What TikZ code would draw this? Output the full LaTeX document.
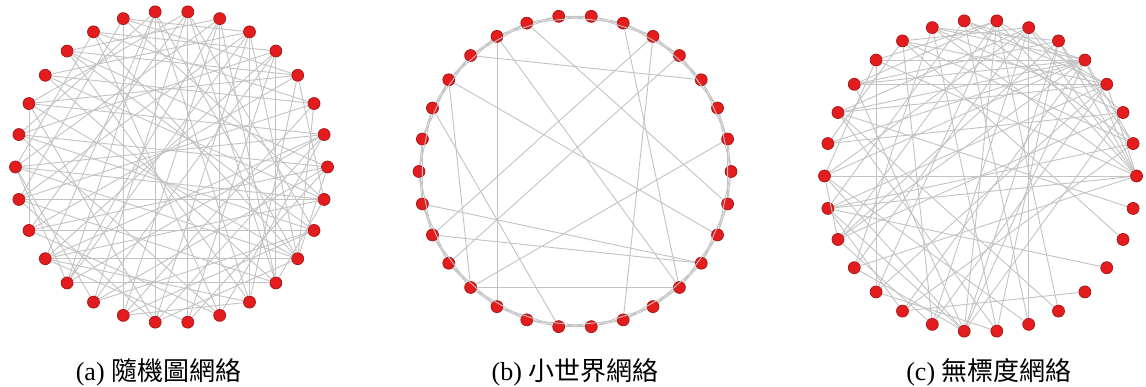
\documentclass[tikz,border=0pt]{standalone}
\usepackage{fontspec}
\setmainfont{Liberation Serif}
\newfontfamily\cjk{Noto Sans CJK TC}
\usepackage{xcolor}
\usepackage{tikz}
\definecolor{nodered}{RGB}{228,28,30}
\definecolor{nodedark}{RGB}{165,22,22}
\definecolor{linkgray}{RGB}{195,195,195}

\begin{document}
\begin{tikzpicture}[x=1pt, y=-1pt,
        vtx/.style={circle, fill=nodered, draw=nodedark, line width=0.7pt,
                    minimum size=12pt, inner sep=0pt},
        link/.style={linkgray, line width=0.9pt},
        captxt/.style={anchor=base, font=\fontsize{26}{31}\selectfont}
      ]
        \useasboundingbox[fill=white] (0,0) rectangle (1146,387);

        % nodes on three rings
        \begin{scope}[shift={(171.5,167)}]
          \foreach \k in {0,...,29}
            \node[vtx] (a\k) at ({-12*\k}:156) {};
        \end{scope}
        \begin{scope}[shift={(575,171.5)}]
          \foreach \k in {0,...,29}
            \node[vtx] (b\k) at ({-12*\k}:156) {};
        \end{scope}
        \begin{scope}[shift={(980.5,176)}]
          \foreach \k in {0,...,29}
            \node[vtx] (c\k) at ({-12*\k}:156) {};
        \end{scope}

        % (a) random graph
        \foreach \u/\v in {7/23, 7/20, 7/17, 7/26, 7/13, 7/28, 8/19, 8/18, 8/25,
            8/27, 8/22, 8/14, 9/21, 9/29, 9/16, 9/3, 10/24, 10/27, 10/2, 10/15,
            11/3, 11/28, 11/25, 11/0, 12/2, 12/26, 12/29, 12/5, 13/3, 13/1,
            13/27, 13/22, 14/0, 14/28, 14/4, 14/24, 15/1, 15/29, 15/27, 15/6,
            15/20, 16/2, 16/5, 16/29, 16/26, 16/22, 17/3, 17/0, 17/28, 17/24,
            18/4, 18/1, 18/27, 18/29, 19/6, 19/5, 19/1, 19/26, 20/4, 20/0,
            20/28, 21/6, 21/2, 21/28, 21/25, 22/5, 22/1, 22/27, 23/4, 23/0,
            23/18, 24/6, 24/1, 25/3, 25/5, 25/18, 26/6, 26/4, 27/0, 27/5,
            6/11, 5/9, 4/10, 13/17, 15/19, 2/27, 29/26, 3/29}
          \draw[link] (a\u) -- (a\v);

        % (b) small world: ring lattice plus shortcuts
        \foreach \k in {0,...,29} {
          \pgfmathtruncatemacro\kn{mod(\k+1,30)}
          \pgfmathtruncatemacro\knn{mod(\k+2,30)}
          \draw[link] (b\k) -- (b\kn) (b\k) -- (b\knn);
        }
        \foreach \u/\v in {11/3, 10/20, 10/26, 12/28, 9/29, 5/17, 4/18, 1/19,
            16/27, 17/27, 19/26, 12/19, 13/22, 5/24, 6/26}
          \draw[link] (b\u) -- (b\v);

        % (c) scale-free graph
        \foreach \u/\v in {4/0, 4/1, 4/9, 4/11, 4/12, 4/14, 4/15, 4/17, 4/20,
            4/22, 4/8, 4/13, 3/0, 3/7, 3/8, 3/10, 3/13, 3/16, 3/19, 3/21, 3/12,
            0/5, 0/7, 0/9, 0/11, 0/15, 0/16, 0/18, 0/6, 1/5, 1/8, 1/16, 1/20,
            1/10, 2/6, 2/9, 2/14, 2/17, 2/22, 6/10, 6/13, 6/15, 6/21, 6/24,
            6/18, 7/11, 7/12, 7/17, 7/22, 7/25, 7/19, 8/16, 8/24, 5/9, 5/12,
            5/17, 5/22, 5/23, 9/18, 9/23, 10/14, 10/21, 11/19, 11/15, 12/22,
            13/23, 13/25, 15/22, 15/24, 15/17, 16/20, 16/22, 17/21, 18/22,
            19/23, 29/13, 28/10, 27/16, 20/26}
          \draw[link] (c\u) -- (c\v);

        % captions
        \node[captxt] (capa) at (158.5,380) {(a) {\cjk 隨機圖網絡}};
        \node[captxt] (capb) at (575,380) {(b) {\cjk 小世界網絡}};
        \node[captxt] (capc) at (989,380) {(c) {\cjk 無標度網絡}};
      \end{tikzpicture}
\end{document}
